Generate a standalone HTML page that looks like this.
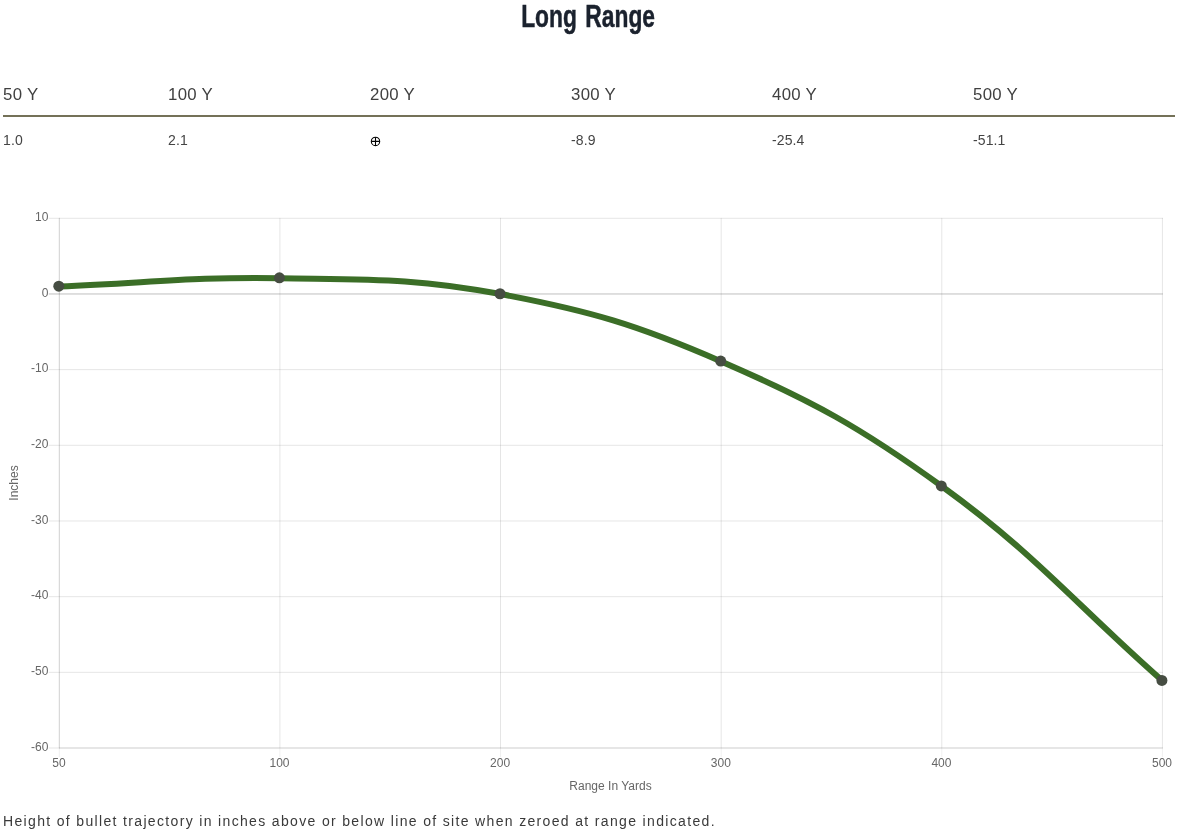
<!DOCTYPE html>
<html>
<head>
<meta charset="utf-8">
<style>
html,body{margin:0;padding:0;background:#fff;}
body{width:1179px;height:834px;position:relative;overflow:hidden;font-family:"Liberation Sans",sans-serif;}
.abs{position:absolute;white-space:nowrap;will-change:transform;}
svg{will-change:transform;}
#title{left:-1px;word-spacing:3px;width:1179px;top:-3px;text-align:center;font-weight:bold;font-size:31px;line-height:40px;color:#1b222e;-webkit-text-stroke:0.5px #1b222e;}
#title span{display:inline-block;transform:scaleX(0.735);transform-origin:center;}
.th{top:85px;font-size:16.8px;line-height:20px;color:#404040;letter-spacing:0.3px;}
.td{top:131px;font-size:14px;line-height:18px;color:#444;letter-spacing:0.1px;}
#rule{left:3px;top:115px;width:1172px;height:2px;background:#747158;}
#foot{left:3px;top:811px;font-size:14px;line-height:20px;color:#3a3a3a;letter-spacing:1.34px;}
svg{position:absolute;left:0;top:0;}
svg text{font-family:"Liberation Sans",sans-serif;font-size:12px;fill:#666;}
</style>
</head>
<body>
<div id="title" class="abs"><span>Long Range</span></div>

<div class="abs th" style="left:3px">50 Y</div>
<div class="abs th" style="left:168px">100 Y</div>
<div class="abs th" style="left:370px">200 Y</div>
<div class="abs th" style="left:571px">300 Y</div>
<div class="abs th" style="left:772px">400 Y</div>
<div class="abs th" style="left:973px">500 Y</div>
<div id="rule" class="abs"></div>
<div class="abs td" style="left:3px">1.0</div>
<div class="abs td" style="left:168px">2.1</div>
<div class="abs td" style="left:571px">-8.9</div>
<div class="abs td" style="left:772px">-25.4</div>
<div class="abs td" style="left:973px">-51.1</div>

<svg width="1179" height="834" viewBox="0 0 1179 834">
  <g stroke="#000" stroke-width="1.1" fill="none"><circle cx="375.5" cy="141.4" r="4.2"/><path d="M371.3 141.4H379.7M375.5 137.2V145.6"/></g>
  <path d="M48.8 218.30H1162.9M48.8 369.64H1162.9M48.8 445.31H1162.9M48.8 520.99H1162.9M48.8 596.66H1162.9M48.8 672.33H1162.9M48.8 748.00H1162.9" stroke="rgba(0,0,0,0.1)" stroke-width="1" fill="none"/>
  <path d="M59.30 217.8V748.5M279.90 217.8V748.5M500.50 217.8V748.5M721.20 217.8V748.5M941.80 217.8V748.5M1162.40 217.8V748.5" stroke="rgba(0,0,0,0.1)" stroke-width="1" fill="none"/>
  <path d="M59.30 748.5V757M279.90 748.5V757M500.50 748.5V757M721.20 748.5V757M941.80 748.5V757M1162.40 748.5V757" stroke="rgba(0,0,0,0.06)" stroke-width="1" fill="none"/>
  <path d="M48.8 293.97H1162.9" stroke="rgba(0,0,0,0.25)" stroke-width="1" fill="none"/>
  <path d="M59.30 217.8V748.5" stroke="rgba(0,0,0,0.1)" stroke-width="1" fill="none"/>
  <path d="M58.8 748.00H1162.9" stroke="rgba(0,0,0,0.1)" stroke-width="1" fill="none"/>
  <g text-anchor="end">
    <text x="48.4" y="220.90">10</text>
    <text x="48.4" y="296.57">0</text>
    <text x="48.4" y="372.24">-10</text>
    <text x="48.4" y="447.91">-20</text>
    <text x="48.4" y="523.59">-30</text>
    <text x="48.4" y="599.26">-40</text>
    <text x="48.4" y="674.93">-50</text>
    <text x="48.4" y="750.60">-60</text>
  </g>
  <g text-anchor="middle">
    <text x="58.90" y="766.9">50</text>
    <text x="279.50" y="766.9">100</text>
    <text x="500.10" y="766.9">200</text>
    <text x="720.80" y="766.9">300</text>
    <text x="941.40" y="766.9">400</text>
    <text x="1162.00" y="766.9">500</text>
    <text x="610.5" y="790">Range In Yards</text>
    <text transform="translate(18.3 483) rotate(-90)">Inches</text>
  </g>
  <path d="M59.30 286.48 C147.54 283.15 191.74 276.65 279.90 278.16 C368.22 279.67 414.11 277.76 500.50 294.05 C590.63 311.05 637.08 324.76 721.20 361.40 C813.60 401.64 860.10 427.12 941.80 486.26 C1036.58 554.86 1074.16 602.94 1162.40 680.73" fill="none" stroke="#3b6e27" stroke-width="6" stroke-linecap="butt" stroke-linejoin="round"/>
  <g fill="#464d42">
    <circle cx="58.80" cy="286.18" r="5.5"/>
    <circle cx="279.40" cy="277.86" r="5.5"/>
    <circle cx="500.00" cy="293.75" r="5.5"/>
    <circle cx="720.70" cy="361.10" r="5.5"/>
    <circle cx="941.30" cy="485.96" r="5.5"/>
    <circle cx="1161.90" cy="680.43" r="5.5"/>
  </g>
</svg>

<div id="foot" class="abs">Height of bullet trajectory in inches above or below line of site when zeroed at range indicated.</div>
</body>
</html>
